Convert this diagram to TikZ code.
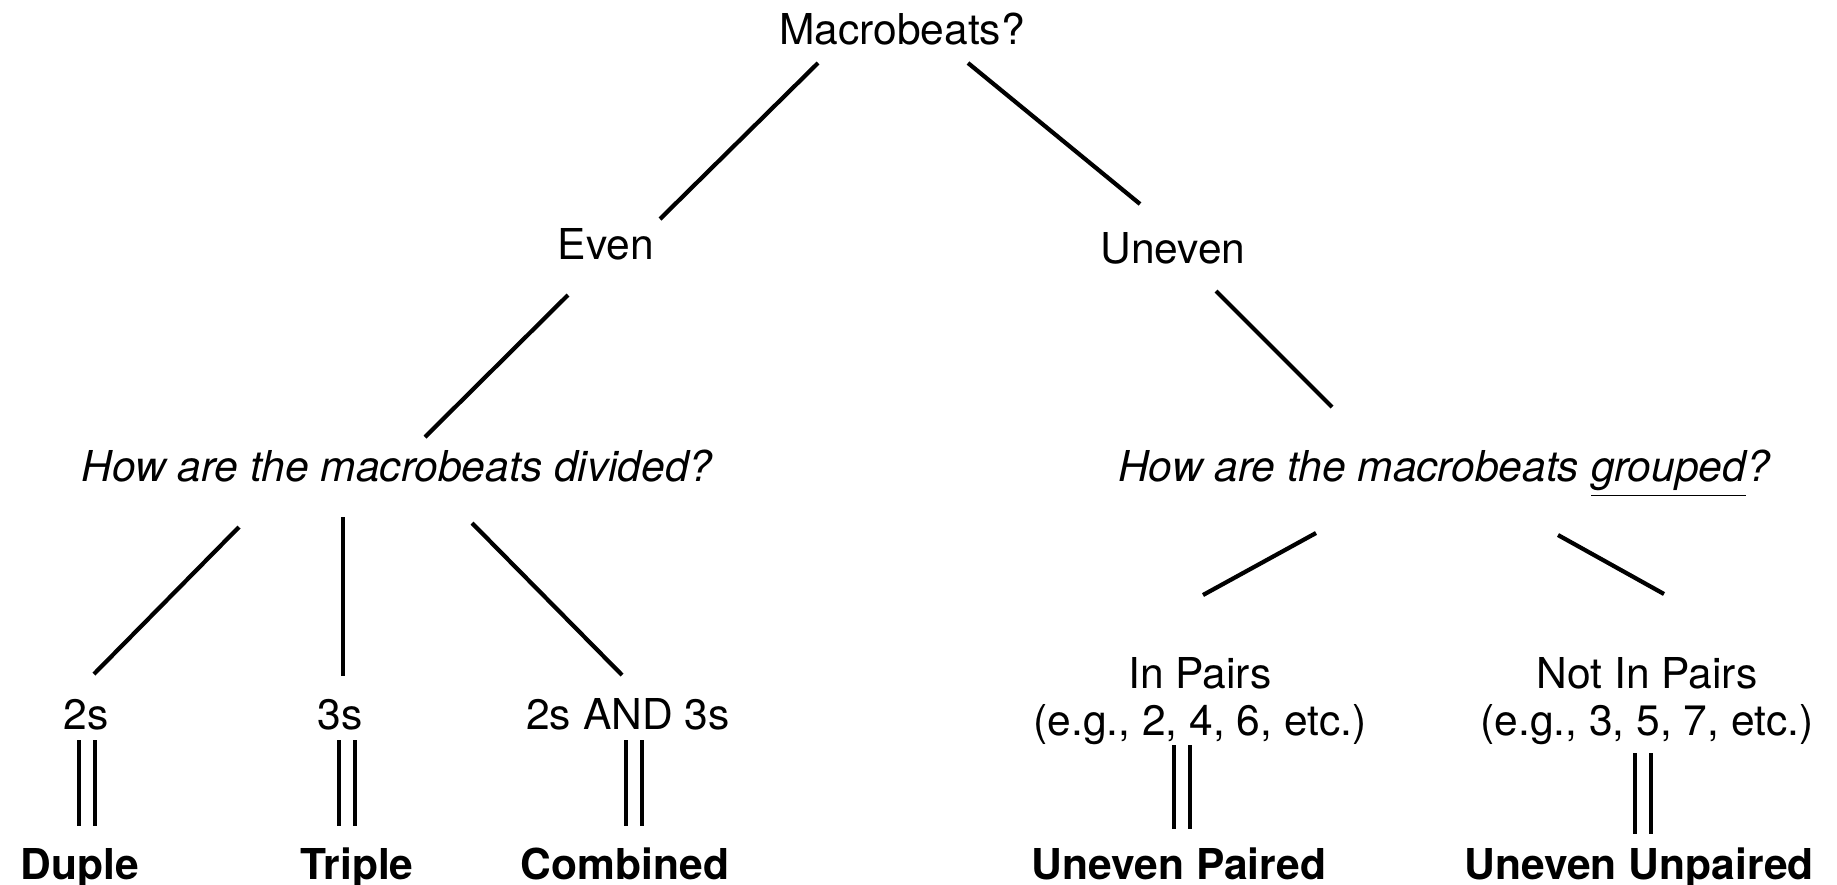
\documentclass[tikz,border=0pt]{standalone}
\usepackage{fontspec}
\setmainfont{TeX Gyre Heros}
\usetikzlibrary{positioning}

\begin{document}
\begin{tikzpicture}[x=0.01cm, y=-0.01cm,
    lbl/.style={anchor=base, inner sep=0pt, font=\fontsize{12.1}{13.3}\selectfont},
    qst/.style={lbl, font=\fontsize{12.1}{13.3}\selectfont\itshape},
    res/.style={lbl, font=\fontsize{12.1}{13.3}\selectfont\bfseries},
    branch/.style={line width=1.2pt},
    same/.style={line width=1.2pt, double, double distance=3.2pt}]
            \useasboundingbox (0,0) rectangle (1837,884);
            \draw (902,44) node[lbl] (macro) {Macrobeats?};
            \draw (606,259) node[lbl] (even) {Even};
            \draw (1173,263) node[lbl] (uneven) {Uneven};
            \draw (397,481) node[qst] (divided) {How are the macrobeats divided?};
            \draw (1444,481) node[qst] (grouped) {How are the macrobeats \underline{grouped}?};
            \draw (86,729) node[lbl] (twos) {2s};
            \draw (340,729) node[lbl] (threes) {3s};
            \draw (628,729) node[lbl] (both) {2s AND 3s};
            \draw (1200,735) node[lbl, align=center] (pairs) {In Pairs\\(e.g., 2, 4, 6, etc.)};
            \draw (1647,735) node[lbl, align=center] (nopairs) {Not In Pairs\\(e.g., 3, 5, 7, etc.)};
            \draw (80,879) node[res] (duple) {Duple};
            \draw (357,879) node[res] (triple) {Triple};
            \draw (625,879) node[res] (combined) {Combined};
            \draw (1179,879) node[res] (evpaired) {Uneven Paired};
            \draw (1639,879) node[res] (evunpaired) {Uneven Unpaired};
            % ends of the branches
            \coordinate (macro-l) at (818,63);   \coordinate (even-t) at (660,219);
            \coordinate (macro-r) at (968,63);   \coordinate (uneven-t) at (1140,204);
            \coordinate (even-b) at (568,295);   \coordinate (divided-t) at (425,437);
            \coordinate (uneven-b) at (1216,291); \coordinate (grouped-t) at (1332,407);
            \coordinate (divided-l) at (239,527); \coordinate (twos-t) at (94,674);
            \coordinate (divided-m) at (343,517); \coordinate (threes-t) at (343,676);
            \coordinate (divided-r) at (472,523); \coordinate (both-t) at (622,675);
            \coordinate (grouped-l) at (1316,533); \coordinate (pairs-t) at (1203,595);
            \coordinate (grouped-r) at (1558,535); \coordinate (nopairs-t) at (1664,594);
            \coordinate (twos-b) at (87,740);    \coordinate (duple-t) at (87,826);
            \coordinate (threes-b) at (347,740); \coordinate (triple-t) at (347,826);
            \coordinate (both-b) at (634,740);   \coordinate (combined-t) at (634,826);
            \coordinate (pairs-b) at (1182,745); \coordinate (evpaired-t) at (1182,829);
            \coordinate (nopairs-b) at (1643,753); \coordinate (evunpaired-t) at (1643,834);
            \path
            (macro-l) edge[branch] (even-t)
            (macro-r) edge[branch] (uneven-t)
            (even-b) edge[branch] (divided-t)
            (uneven-b) edge[branch] (grouped-t)
            (divided-l) edge[branch] (twos-t)
            (divided-m) edge[branch] (threes-t)
            (divided-r) edge[branch] (both-t)
            (grouped-l) edge[branch] (pairs-t)
            (grouped-r) edge[branch] (nopairs-t)
            (twos-b) edge[same] (duple-t)
            (threes-b) edge[same] (triple-t)
            (both-b) edge[same] (combined-t)
            (pairs-b) edge[same] (evpaired-t)
            (nopairs-b) edge[same] (evunpaired-t);
        \end{tikzpicture}
\end{document}
